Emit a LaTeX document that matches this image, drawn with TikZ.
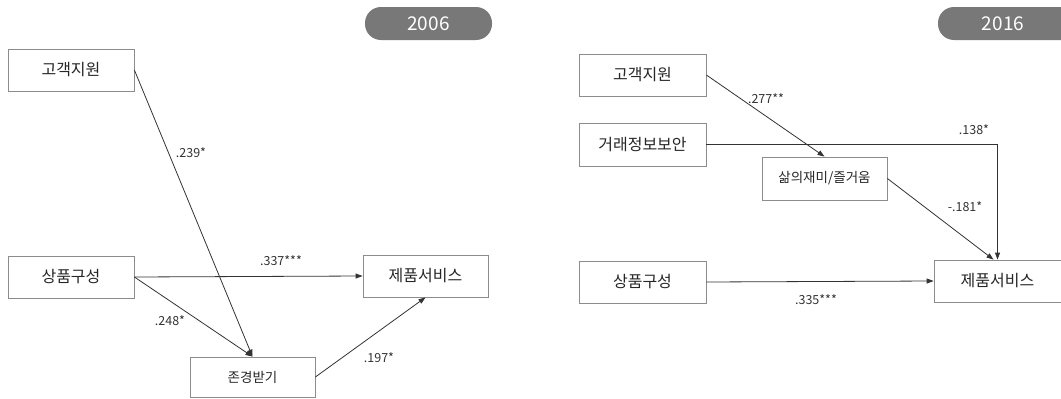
\documentclass[tikz,border=0pt]{standalone}
\usepackage{fontspec}
\setmainfont{Noto Sans CJK KR}
\usetikzlibrary{arrows.meta}
\definecolor{boxline}{HTML}{8C8C8C}
\definecolor{conn}{HTML}{333333}
\definecolor{pillgrey}{HTML}{787878}
\tikzset{
  varbox/.style={draw=boxline, line width=0.8pt, fill=white, minimum width=126pt, minimum height=42pt, inner sep=0pt, font=\fontsize{16}{16}\selectfont, text=black!85},
  medbox/.style={varbox, font=\fontsize{13.5}{13.5}\selectfont},
  pill/.style={fill=pillgrey, rounded corners=16pt, minimum width=127pt, minimum height=33pt, inner sep=0pt, text=white, font=\fontsize{19}{19}\selectfont},
  coef/.style={inner sep=0pt, text=black!80, font=\fontsize{12.5}{12.5}\selectfont},
  conarrow/.style={draw=conn, line width=0.8pt, -{Triangle[length=7pt,width=5pt]}}
}
\begin{document}
\begin{tikzpicture}[x=1pt,y=-1pt]
\useasboundingbox (0,0) rectangle (1061,399);
\clip (0,0) rectangle (1061,399);
% ---- 2006 ----
\node[pill] (p1) at (428.5,23.5) {2006};
\node[varbox] (gj1) at (71,70) {고객지원};
\node[varbox] (sp1) at (71,277) {상품구성};
\node[varbox, minimum width=125pt] (jp1) at (425.5,276) {제품서비스};
\node[medbox, minimum width=125pt, minimum height=40pt] (jg1) at (252.5,377) {존경받기};
\draw[conarrow] (gj1.east) -- (jg1.north);
\draw[conarrow] (sp1.east) -- (jg1.north);
\draw[conarrow] (sp1.east) -- (jp1.west);
\draw[conarrow] (jg1.east) -- (jp1.south);
\node[coef] (l1) at (191,153) {.239*};
\node[coef] (l2) at (281,261) {.337***};
\node[coef] (l3) at (170,321) {.248*};
\node[coef] (l4) at (379,358) {.197*};
% ---- 2016 ----
\node[pill, minimum width=140pt] (p2) at (1008,23.5) {\hspace*{-10pt}2016};
\node[varbox, minimum width=127pt] (gj2) at (642.5,75) {고객지원};
\node[varbox, minimum width=127pt, minimum height=43pt] (gr2) at (642.5,144.5) {거래정보보안};
\node[medbox, minimum width=125pt, minimum height=43pt] (sj2) at (824.5,178.5) {삶의재미/즐거움};
\node[varbox, minimum width=127pt] (sp2) at (642.5,282) {상품구성};
\node[varbox, minimum width=127pt] (jp2) at (997.5,281) {제품서비스};
\coordinate (bend) at (997.5,144.5);
\draw[conarrow] (gj2.east) -- (sj2.north);
\draw[conarrow] (gr2.east) -- (bend) -- (jp2.north);
\draw[conarrow] (sj2.east) -- ([xshift=-4pt]jp2.north);
\draw[conarrow] (sp2.east) -- (jp2.west);
\node[coef] (l5) at (766,99) {.277**};
\node[coef] (l6) at (974,130) {.138*};
\node[coef] (l7) at (965,207) {-.181*};
\node[coef] (l8) at (816,300) {.335***};
\end{tikzpicture}
\end{document}
